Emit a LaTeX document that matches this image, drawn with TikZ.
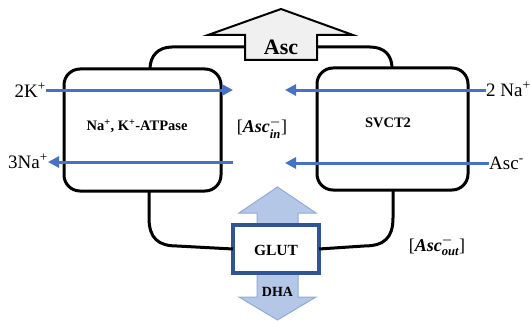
\documentclass[tikz,border=0pt]{standalone}
\usepackage{amsmath}
\usepackage{fontspec}
\setmainfont{Liberation Serif}
\usetikzlibrary{arrows.meta}
\definecolor{ionblue}{HTML}{4472C4}
\definecolor{glutblue}{HTML}{2F5597}
\definecolor{dhafill}{HTML}{B4C7E7}
\definecolor{dhadraw}{HTML}{8FAADC}
\definecolor{ascfill}{HTML}{F0F0F0}
\newcommand{\conclbl}[1]{[\textbf{\textit{Asc}}$^{\boldsymbol{-}}_{\text{\bfseries\itshape #1}}$]}
\tikzset{
  box/.style={draw, line width=3pt, rounded corners=16pt, outer sep=0pt, inner sep=0pt},
  link/.style={line width=3pt},
  ion/.style={draw=ionblue, line width=3pt, -{Triangle[length=11pt,width=11pt]}},
  lbl/.style={font=\fontsize{19}{21}\selectfont, inner sep=0pt},
  blbl/.style={font=\bfseries\fontsize{14.5}{16}\selectfont, inner sep=0pt},
  mlbl/.style={font=\fontsize{18}{20}\selectfont, inner sep=0pt},
  ascarrow/.style={draw, line width=2pt, fill=ascfill, line join=miter},
  dhaarrow/.style={draw=dhadraw, line width=1pt, fill=dhafill},
  glutbox/.style={draw=glutblue, line width=3.5pt, fill=white, outer sep=0pt,
    minimum width=86pt, minimum height=48pt, inner sep=0pt}
}
\begin{document}
\begin{tikzpicture}[x=1pt,y=-1pt]
\useasboundingbox (0,0) rectangle (530,321);
% membrane boxes
\node[box, minimum width=157pt, minimum height=122pt, anchor=north west] (atp) at (64,69) {};
\node[box, minimum width=151pt, minimum height=122pt, anchor=north west] (svct) at (317,68) {};
\node[blbl] (atplbl) at (137,126) {Na\textsuperscript{+}, K\textsuperscript{+}-ATPase};
\node[blbl] (svctlbl) at (388,123) {SVCT2};
% Asc up arrow
\draw[ascarrow] (245,60) -- (245,35) -- (208,35) -- (281,9) -- (353,35) -- (317,35) -- (317,60) -- cycle;
\node[font=\bfseries\fontsize{22}{24}\selectfont, inner sep=0pt] (asc) at (281,47) {Asc};
% DHA double arrow
\draw[dhaarrow] (277.5,187) -- (316,213) -- (298,213) -- (298,297) -- (316,297) -- (277.5,320) -- (239,297) -- (257,297) -- (257,213) -- (239,213) -- cycle;
\node[glutbox] (glut) at (276,249) {};
\node[blbl, font=\bfseries\fontsize{15.5}{17}\selectfont] (glutlbl) at (276,250) {GLUT};
\node[blbl, font=\bfseries\fontsize{14}{16}\selectfont] (dha) at (277.5,292) {DHA};
% connectors
\coordinate (ascL) at (245,47);
\coordinate (ascR) at (317,47);
\coordinate (atpTop) at (150,69);
\coordinate (svTop) at (392,68);
\coordinate (atpBot) at (149,191);
\coordinate (svBot) at (393,190);
\draw[link] (atpTop) .. controls (150,56) and (158,47) .. (172,47) -- (ascL);
\draw[link] (ascR) -- (370,47) .. controls (384,47) and (392,55) .. (svTop);
\draw[link] (atpBot) -- (149,218) .. controls (149,238) and (158,246) .. (177,246) -- (glut.west);
\draw[link] (glut.east) -- (364,246) .. controls (384,246) and (393,238) .. (393,218) -- (svBot);
% concentration labels
\node[mlbl] (ascin) at (262,128) {\conclbl{in}};
\node[mlbl] (ascoutlbl) at (437,246) {\conclbl{out}};
% ion labels and arrows
\node[lbl, anchor=base east] (k) at (46,97) {2K\textsuperscript{+}};
\coordinate (kend) at (233,90);
\draw[ion] (kend -| k.east) -- (kend);
\node[lbl, anchor=base east] (na3) at (48,168) {3Na\textsuperscript{+}};
\coordinate (na3start) at (233,162);
\draw[ion] (na3start) -- (na3start -| na3.east);
\node[lbl, anchor=base west] (na2) at (486,96) {2 Na\textsuperscript{+}};
\coordinate (na2end) at (285,90);
\draw[ion] (na2end -| na2.west) -- (na2end);
\node[lbl, anchor=base west] (ascext) at (489,169) {Asc\textsuperscript{-}};
\coordinate (ascend) at (285,163);
\draw[ion] (ascend -| ascext.west) -- (ascend);
\end{tikzpicture}
\end{document}
